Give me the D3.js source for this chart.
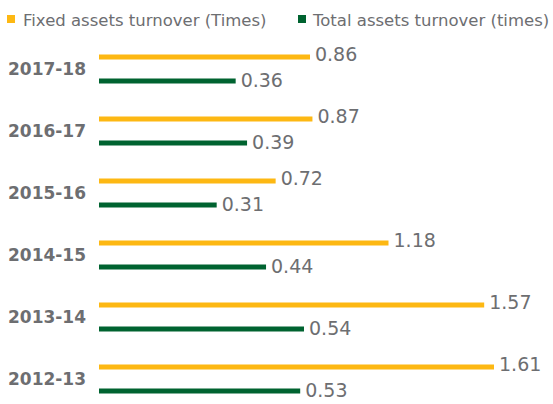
<!DOCTYPE html>
<html><head><meta charset="utf-8">
<script src="https://cdn.jsdelivr.net/npm/d3@7"></script>
<style>body{margin:0;background:#fff}svg{display:block}</style>
</head><body>
<svg id="c" width="553" height="404"></svg>
<script>
const categories = ["2017-18","2016-17","2015-16","2014-15","2013-14","2012-13"];
const fixedAssets = [0.86, 0.87, 0.72, 1.18, 1.57, 1.61];
const totalAssets = [0.36, 0.39, 0.31, 0.44, 0.54, 0.53];
const seriesNames = ["Fixed assets turnover (Times)", "Total assets turnover (times)"];
const colors = ["#FDB813", "#006330"];

const svg = d3.select("#c");
const textColor = "#6d6e71";
const font = "DejaVu Sans";
const x0 = 99;

// per-series length scales (as in the source infographic)
const xFixed = d3.scaleLinear().domain([0, 1.61]).range([x0, x0 + 395]);
const xTotal = d3.scaleLinear().domain([0, 0.54]).range([x0, x0 + 205]);

const y = d3.scaleBand().domain(categories).range([39, 411]).paddingInner(0).paddingOuter(0);

// legend
const legend = svg.append("g");
const lg = [{x:7, tx:23, name:seriesNames[0], c:colors[0]},{x:298, tx:313, name:seriesNames[1], c:colors[1]}];
lg.forEach(d=>{
  legend.append("rect").attr("x", d.x).attr("y", 15).attr("width", 8).attr("height", 8).attr("fill", d.c);
  legend.append("text").attr("x", d.tx).attr("y", 26).attr("font-family", font)
    .attr("font-size", 16.5).attr("fill", textColor).text(d.name);
});

const g = svg.append("g");
categories.forEach((cat, i) => {
  const top = y(cat);
  const yf = top + 18, yt = top + 42;
  g.append("text").attr("x", 8).attr("y", top + 36).attr("font-family", font)
    .attr("font-weight", "bold").attr("font-size", 17).attr("fill", textColor).text(cat);
  g.append("rect").attr("x", x0).attr("y", yf - 2.5).attr("width", xFixed(fixedAssets[i]) - x0).attr("height", 5).attr("fill", colors[0]);
  g.append("rect").attr("x", x0).attr("y", yt - 2.5).attr("width", xTotal(totalAssets[i]) - x0).attr("height", 5).attr("fill", colors[1]);
  g.append("text").attr("x", xFixed(fixedAssets[i]) + 5).attr("y", yf + 4).attr("font-family", font)
    .attr("font-size", 19).attr("fill", textColor).text(fixedAssets[i].toFixed(2));
  g.append("text").attr("x", xTotal(totalAssets[i]) + 5).attr("y", yt + 6).attr("font-family", font)
    .attr("font-size", 19).attr("fill", textColor).text(totalAssets[i].toFixed(2));
});
</script>
</body></html>
